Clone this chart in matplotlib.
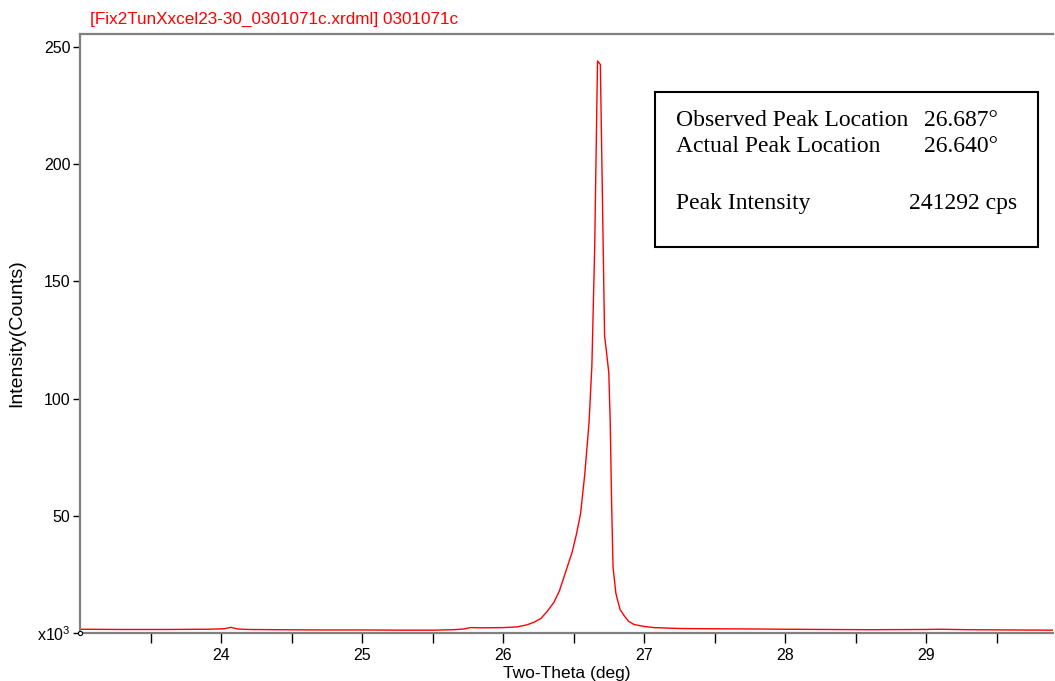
import matplotlib
matplotlib.use("Agg")
import matplotlib.pyplot as plt
from matplotlib.patches import Rectangle

# scan data (two-theta in deg, intensity in x10^3 counts)
two_theta = [23.00, 23.30, 23.60, 23.90, 24.02, 24.07, 24.12, 24.20, 24.40, 24.70,
             25.00, 25.30, 25.50, 25.65, 25.72, 25.77, 25.85, 26.00, 26.10, 26.17,
             26.22, 26.27, 26.31, 26.36, 26.40, 26.43, 26.46, 26.49, 26.52, 26.55,
             26.58, 26.61, 26.63, 26.65, 26.67, 26.69, 26.72, 26.75, 26.76, 26.77,
             26.78, 26.80, 26.81, 26.83, 26.86, 26.89, 26.93, 27.00, 27.07, 27.26,
             27.50, 27.80, 28.00, 28.30, 28.60, 29.00, 29.10, 29.30, 29.60, 29.90]
counts = [1.6, 1.5, 1.5, 1.6, 1.8, 2.4, 1.7, 1.5, 1.4, 1.3,
          1.3, 1.2, 1.2, 1.4, 1.7, 2.3, 2.2, 2.3, 2.6, 3.5,
          4.6, 6.3, 9.0, 13.0, 18.0, 23.5, 29.0, 34.5, 42.0, 51.0,
          68.0, 90.0, 114.0, 165.0, 244.0, 242.5, 127.0, 111.0, 90.0, 55.0,
          28.0, 17.0, 14.5, 10.0, 7.3, 5.0, 3.6, 2.8, 2.3, 1.9,
          1.8, 1.7, 1.6, 1.5, 1.4, 1.5, 1.6, 1.4, 1.3, 1.2]

xticks_major = [24, 25, 26, 27, 28, 29]
xticks_minor = [23.5, 24.5, 25.5, 26.5, 27.5, 28.5, 29.5]
yticks = [50, 100, 150, 200, 250]

title = "[Fix2TunXxcel23-30_0301071c.xrdml] 0301071c"
info_labels = ["Observed Peak Location", "Actual Peak Location", "Peak Intensity"]
info_values = ["26.687°", "26.640°", "241292 cps"]

plt.rcParams['font.family'] = ['Liberation Sans', 'DejaVu Sans']
plt.rcParams['mathtext.fontset'] = 'custom'
plt.rcParams['mathtext.rm'] = 'Liberation Sans'
plt.rcParams['mathtext.it'] = 'Liberation Sans:italic'

fig = plt.figure(figsize=(10.55, 6.81), dpi=100)
ax = fig.add_axes([80/1055, 1 - 633/681, 973/1055, (633 - 34)/681])

ax.plot(two_theta, counts, color='#ff0000', linewidth=1.0)

ax.set_xlim(23.0, 29.9)
ax.set_ylim(0, 255.5)

ax.set_xticks(xticks_major)
ax.set_xticks(xticks_minor, minor=True)
ax.set_yticks([0] + yticks)
ax.set_yticklabels([r"x10$^{\mathrm{3}}$"] + [str(v) for v in yticks])
ax.tick_params(axis='x', which='both', direction='out', length=7, width=1,
               color='black', labelsize=11.5, pad=4)
ax.tick_params(axis='y', direction='out', length=5, width=1,
               color='black', labelsize=11.5, pad=2)

for side in ['left', 'bottom', 'top']:
    ax.spines[side].set_color('#808080')
    ax.spines[side].set_linewidth(1.6)
ax.spines['right'].set_visible(False)

ax.plot([23.0], [0], marker='o', markersize=3, markerfacecolor='white',
        markeredgecolor='black', markeredgewidth=0.8, clip_on=False, zorder=5)

ax.set_xlabel("Two-Theta (deg)", fontsize=12.5, labelpad=2)
ax.set_ylabel("Intensity(Counts)", fontsize=14, labelpad=8)

fig.text(90/1055, 1 - 19/681, title, color='#ff0000', fontsize=12.3,
         ha='left', va='center')

# info box
fig.patches.append(Rectangle((655/1055, 1 - 247/681), 383/1055, 155/681,
                             transform=fig.transFigure, fill=False,
                             edgecolor='black', linewidth=1.5))
serif = ['Liberation Serif', 'DejaVu Serif']
rows_y = [126, 152, 209]
vals_x = [998, 998, 1017]
for lab, val, yy, vx in zip(info_labels, info_values, rows_y, vals_x):
    fig.text(676/1055, 1 - yy/681, lab, family=serif, fontsize=17,
             ha='left', va='baseline')
    fig.text(vx/1055, 1 - yy/681, val, family=serif, fontsize=17,
             ha='right', va='baseline')

fig.savefig("out.png", dpi=100)
